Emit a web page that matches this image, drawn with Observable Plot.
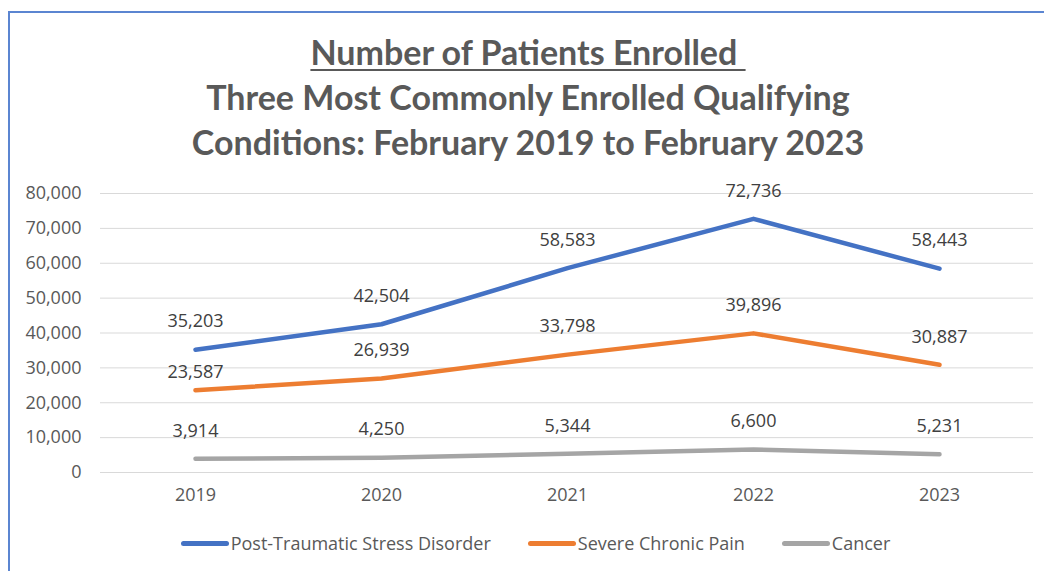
<!DOCTYPE html>
<html>
<head>
<meta charset="utf-8">
<script src="https://cdn.jsdelivr.net/npm/d3@7"></script>
<script src="https://cdn.jsdelivr.net/npm/@observablehq/plot@0.6"></script>
<style>
  html, body { margin: 0; padding: 0; background: #fff; }
  body { width: 1044px; height: 571px; position: relative; overflow: hidden; font-family: "Open Sans", sans-serif; }
  #frame { position: absolute; left: 8px; top: 11px; width: 1100px; height: 600px;
           border-left: 2px solid #5B85D1; border-top: 2px solid #5B85D1; box-sizing: border-box; }
  #title { position: absolute; left: 0; width: 1056px; top: 29px; text-align: center;
           font-family: "Lato", sans-serif; font-weight: 700; font-size: 34px; line-height: 45px; color: #595959; }
  #title u { text-decoration-thickness: 2px; text-underline-offset: 4px; }
  #chart { position: absolute; left: 0; top: 170px; }
  #legend { position: absolute; left: 0; width: 1071px; top: 531px; display: flex; justify-content: center;
            gap: 37px; font-size: 18px; color: #595959; }
  .item { display: flex; align-items: center; }
  .swatch { width: 48px; height: 5px; border-radius: 3px; margin-right: 2px; }
</style>
</head>
<body>
<div id="frame"></div>
<div id="title"><u>Number of Patients Enrolled&nbsp;</u><br>Three Most Commonly Enrolled Qualifying<br>Conditions: February 2019 to February 2023</div>
<div id="chart"></div>
<div id="legend"></div>
<script>
const years = ["2019", "2020", "2021", "2022", "2023"];
const seriesNames = ["Post-Traumatic Stress Disorder", "Severe Chronic Pain", "Cancer"];
const ptsd = [35203, 42504, 58583, 72736, 58443];
const chronicPain = [23587, 26939, 33798, 39896, 30887];
const cancer = [3914, 4250, 5344, 6600, 5231];
const colors = ["#4472C4", "#ED7D31", "#A5A5A5"];
const yTicks = [0, 10000, 20000, 30000, 40000, 50000, 60000, 70000, 80000];

const seriesValues = [ptsd, chronicPain, cancer];
const data = [];
seriesNames.forEach((s, i) => years.forEach((y, j) => data.push({series: s, year: y, value: seriesValues[i][j]})));

const fmt = d3.format(",");
const labelFont = "Open Sans, sans-serif";

const plot = Plot.plot({
  width: 1044,
  height: 340,
  marginLeft: 100,
  marginRight: 11,
  marginTop: 23,
  marginBottom: 38,
  style: { fontFamily: labelFont, fontSize: "18px", color: "#595959", background: "transparent" },
  x: { type: "point", domain: years, padding: 0.5, label: null },
  y: { domain: [0, 80000], label: null },
  color: { domain: seriesNames, range: colors },
  marks: [
    Plot.gridY(yTicks, { stroke: "#d9d9d9", strokeOpacity: 1, strokeWidth: 1 }),
    Plot.axisY({ ticks: yTicks, tickFormat: fmt, tickSize: 0, tickPadding: 19, label: null, fill: "#595959", fontSize: 18 }),
    Plot.axisX({ tickSize: 0, tickPadding: 16, label: null, fill: "#595959", fontSize: 18 }),
    Plot.line(data, { x: "year", y: "value", z: "series", stroke: "series", strokeWidth: 4.5,
                      strokeLinecap: "round", strokeLinejoin: "round" }),
    Plot.text(data.filter(d => !(d.series === seriesNames[1] && d.year === years[0])),
      { x: "year", y: "value", text: d => fmt(d.value), dy: -28, fill: "#404040", fontSize: 18 }),
    Plot.text(data.filter(d => d.series === seriesNames[1] && d.year === years[0]),
      { x: "year", y: "value", text: d => fmt(d.value), dy: -18, fill: "#404040", fontSize: 18 })
  ]
});
document.getElementById("chart").appendChild(plot);

const legend = document.getElementById("legend");
seriesNames.forEach((s, i) => {
  const it = document.createElement("div");
  it.className = "item";
  const sw = document.createElement("div");
  sw.className = "swatch";
  sw.style.background = colors[i];
  const tx = document.createElement("span");
  tx.textContent = s;
  it.appendChild(sw); it.appendChild(tx);
  legend.appendChild(it);
});
</script>
</body>
</html>
